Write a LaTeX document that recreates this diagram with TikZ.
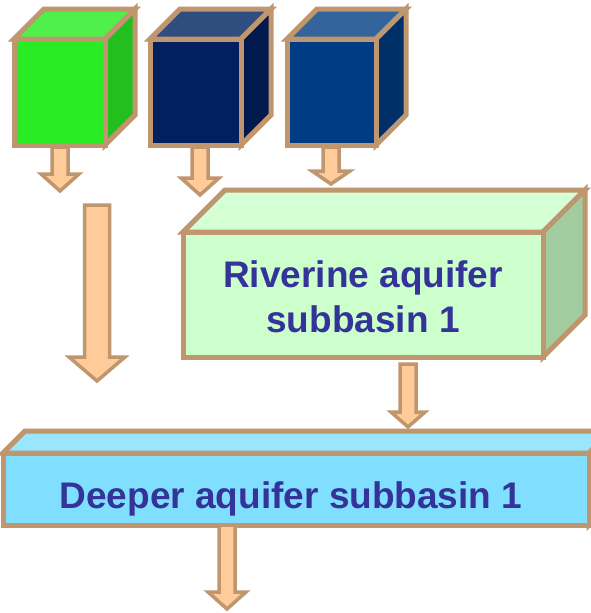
\documentclass[tikz,border=0pt]{standalone}
\usepackage{fontspec}
\setmainfont{Liberation Sans}
\definecolor{edge}{HTML}{C0966E}
\definecolor{arrfill}{HTML}{FFCC99}
\definecolor{txt}{HTML}{333399}
\definecolor{gFront}{HTML}{2AEC24}
\definecolor{gTop}{HTML}{50F04A}
\definecolor{gSide}{HTML}{22BF1E}
\definecolor{nFront}{HTML}{002060}
\definecolor{nTop}{HTML}{304D7F}
\definecolor{nSide}{HTML}{001A4D}
\definecolor{bFront}{HTML}{003C84}
\definecolor{bTop}{HTML}{33649C}
\definecolor{bSide}{HTML}{003068}
\definecolor{rFront}{HTML}{CCFFCC}
\definecolor{rTop}{HTML}{D5FFD5}
\definecolor{rSide}{HTML}{A0CCA0}
\definecolor{dFront}{HTML}{80DFFF}
\definecolor{dTop}{HTML}{99E6FF}
\tikzset{
  outl/.style={draw=edge, line width=5pt, line join=miter},
  arr/.style={draw=edge, fill=arrfill, line width=3.5pt, line join=miter},
  lbl/.style={text=txt, font=\fontsize{37}{45}\selectfont\bfseries, inner sep=0pt, anchor=base}
}
% x y w h d front top side name
\newcommand\cubebox[9]{%
  \coordinate (#9) at (#1,#2);
  \filldraw[outl, fill=#7] (#1,#2) -- ({#1+#5},{#2-#5}) -- ({#1+#3+#5},{#2-#5}) -- ({#1+#3},#2) -- cycle;
  \filldraw[outl, fill=#8] ({#1+#3},#2) -- ({#1+#3+#5},{#2-#5}) -- ({#1+#3+#5},{#2+#4-#5}) -- ({#1+#3},{#2+#4}) -- cycle;
  \filldraw[outl, fill=#6] (#1,#2) rectangle ({#1+#3},{#2+#4});
}
% cx top headtop tip shaft-halfwidth head-halfwidth
\newcommand\blockarrow[6]{%
  \filldraw[arr] ({#1-#5},#2) -- ({#1+#5},#2) -- ({#1+#5},#3) -- ({#1+#6},#3) -- (#1,#4) -- ({#1-#6},#3) -- ({#1-#5},#3) -- cycle;
}
\begin{document}
\begin{tikzpicture}[x=1pt,y=-1pt]
\fill[white] (0,0) rectangle (591,613);
\useasboundingbox (0,0) rectangle (591,613);
% source cubes
\cubebox{14}{39}{91}{106}{30}{gFront}{gTop}{gSide}{c1}
\cubebox{150}{39}{91}{106}{30}{nFront}{nTop}{nSide}{c2}
\cubebox{287}{39}{89}{106}{30}{bFront}{bTop}{bSide}{c3}
% riverine box
\cubebox{183}{232}{360}{125}{42}{rFront}{rTop}{rSide}{riv}
\node[lbl] (rivA) at (363,287) {Riverine aquifer};
\node[lbl] (rivB) at (363,332) {subbasin 1};
% deeper box
\cubebox{3}{453}{586}{72}{22}{dFront}{dTop}{dFront}{deep}
\node[lbl] (deepT) at (291,508) {Deeper aquifer subbasin 1};
% arrows
\blockarrow{60}{147}{174}{191}{8}{19}
\blockarrow{200}{147}{178}{195}{8}{19}
\blockarrow{331}{147}{171}{184}{8}{19}
\blockarrow{97}{205}{357}{381}{12.5}{28}
\blockarrow{408}{364}{412}{427}{8}{17}
\blockarrow{227}{525}{592}{609}{8}{19}
\end{tikzpicture}
\end{document}
